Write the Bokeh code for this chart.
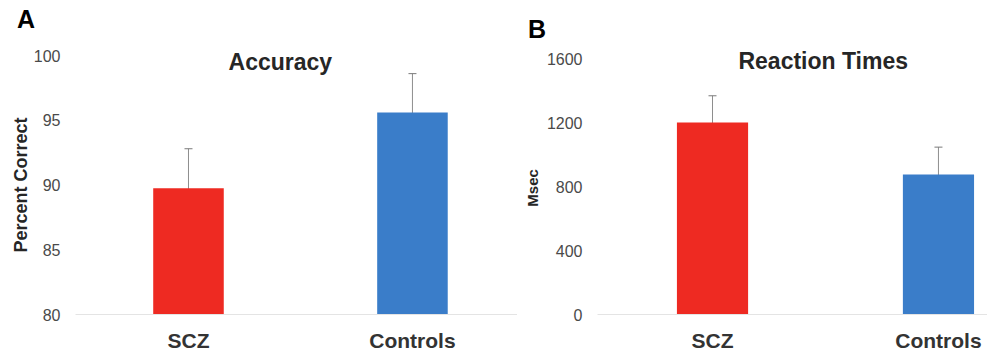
from bokeh.plotting import figure
from bokeh.layouts import row, column
from bokeh.models import (ColumnDataSource, Range1d, FixedTicker, Whisker,
                          TeeHead, Label, Div)
from bokeh.embed import file_html
from bokeh.resources import INLINE

# ---- data ----
categories = ["SCZ", "Controls"]
colors = ["#EE2A22", "#3A7DC9"]

acc_mean = [89.75, 95.6]
acc_err = [3.05, 3.0]
acc_ticks = [80, 85, 90, 95, 100]

rt_mean = [1200, 875]
rt_err = [167, 171]
rt_ticks = [0, 400, 800, 1200, 1600]

FONT = "Liberation Sans"
TOP = 40
H = 358 - TOP
NB = "\u00a0"


def make_panel(means, errs, ticks, y_range, x_range, width, border_left,
               ylabel, ylabel_size, ylabel_standoff, title, title_x, title_y):
    idx = list(range(len(categories)))
    src = ColumnDataSource(dict(
        x=idx, top=means, color=colors,
        upper=[m + e for m, e in zip(means, errs)],
        lower=[m - e for m, e in zip(means, errs)],
    ))
    p = figure(width=width, height=H, output_backend="svg",
               toolbar_location=None, x_range=x_range, y_range=y_range,
               min_border_left=border_left, min_border_right=0,
               min_border_top=0, min_border_bottom=44)
    p.outline_line_color = None
    p.xgrid.visible = False
    p.ygrid.visible = False
    p.background_fill_color = "white"
    p.border_fill_color = "white"

    p.vbar(x="x", top="top", bottom=ticks[0],
           width=0.315, fill_color="color", line_color=None, source=src)

    w = Whisker(base="x", upper="upper", lower="lower", source=src,
                line_color="#7a7a7a", line_width=1, line_alpha=0.85,
                upper_head=TeeHead(size=8, line_color="#7a7a7a", line_width=1),
                lower_head=TeeHead(size=8, line_color="#7a7a7a", line_width=1,
                                   line_alpha=0.3))
    p.add_layout(w)

    # x axis
    xa = p.xaxis[0]
    xa.ticker = FixedTicker(ticks=idx)
    xa.major_label_overrides = {i: c for i, c in enumerate(categories)}
    xa.axis_line_color = "#e4e4e4"
    xa.axis_line_width = 1
    xa.major_tick_line_color = None
    xa.minor_tick_line_color = None
    xa.major_tick_out = 0
    xa.major_label_standoff = 14
    xa.major_label_text_font = FONT
    xa.major_label_text_font_style = "bold"
    xa.major_label_text_font_size = "21px"
    xa.major_label_text_color = "#333333"

    # y axis
    ya = p.yaxis[0]
    ya.ticker = FixedTicker(ticks=ticks)
    ya.axis_line_color = None
    ya.major_tick_line_color = None
    ya.minor_tick_line_color = None
    ya.major_tick_out = 0
    ya.major_label_standoff = 15
    ya.major_label_text_font = FONT
    ya.major_label_text_font_size = "16px"
    ya.major_label_text_color = "#4a4a4a"
    ya.axis_label = ylabel
    ya.axis_label_standoff = ylabel_standoff
    ya.axis_label_text_font = FONT
    ya.axis_label_text_font_style = "bold"
    ya.axis_label_text_font_size = ylabel_size
    ya.axis_label_text_color = "#262626"

    p.add_layout(Label(x=title_x, y=title_y, text=title,
                       text_font=FONT, text_font_style="bold",
                       text_font_size="23px", text_color="#262626",
                       text_align="center", text_baseline="middle"))
    return p


def letter_div(letter, width, pad_left, pad_top):
    html = ('<div style="font-family: \'Liberation Sans\', Arial, sans-serif;'
            ' font-weight: bold; font-size: 25px; line-height: 25px;'
            f' margin: 0; padding: {pad_top}px 0 0 {pad_left}px;'
            f' color: black;">{letter}</div>')
    return Div(text=html, width=width, height=TOP, margin=0)


pa = make_panel(acc_mean, acc_err, acc_ticks,
                Range1d(80, 80 + (314 - TOP) / 12.95), Range1d(-0.5045, 1.469),
                517, 75, "Percent Correct" + NB * 3, "18px", 0,
                "Accuracy", 0.41, 99.5)
pb = make_panel(rt_mean, rt_err, rt_ticks,
                Range1d(0, (314 - TOP) / 0.16), Range1d(-0.509, 1.217),
                470, 80, "Msec" + NB * 5, "15px", 3,
                "Reaction Times", 0.49, 1587)
pa.margin = 0
pb.margin = 0

da = letter_div("A", 517, 17, 7)
db = letter_div("B", 470, 11, 17)

layout = column(row(da, db, spacing=0, margin=0),
                row(pa, pb, spacing=0, margin=0), spacing=0, margin=0)
open("out.html", "w").write(file_html(layout, INLINE))
